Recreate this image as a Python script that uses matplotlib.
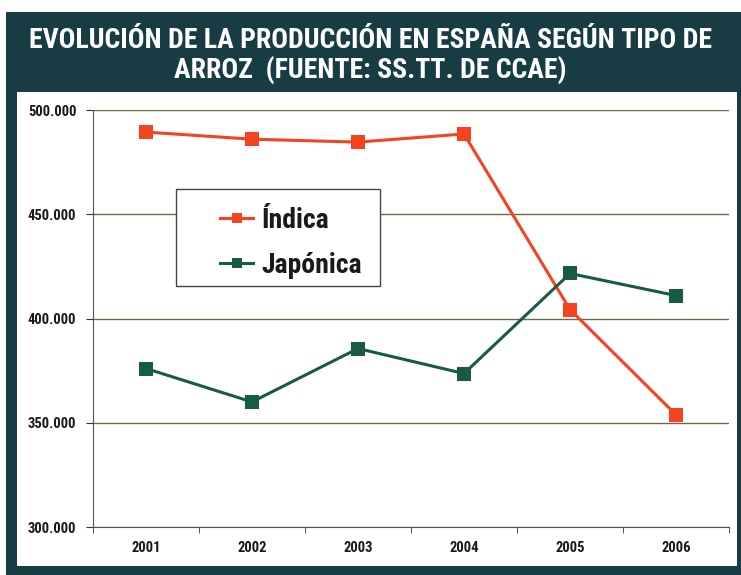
import matplotlib.pyplot as plt
from matplotlib.patches import Rectangle

# data (toneladas)
years = ['2001', '2002', '2003', '2004', '2005', '2006']
indica = [489400, 486000, 484600, 488500, 404300, 353800]
japonica = [376000, 360000, 385600, 373600, 421600, 411000]
yticks = [300000, 350000, 400000, 450000, 500000]
ytick_labels = ['300.000', '350.000', '400.000', '450.000', '500.000']

FONT = ['Roboto Condensed', 'Liberation Sans Narrow', 'DejaVu Sans']
DARK = '#173c43'


def main():
    W, H = 741, 575
    fig = plt.figure(figsize=(W / 100, H / 100), dpi=100)
    fig.patch.set_facecolor('white')

    # dark frame and white panel (figure pixel coords -> fractions)
    fig.patches.append(Rectangle((6 / W, 0), 1, 1 - 12 / H, transform=fig.transFigure,
                                 facecolor=DARK, edgecolor='none', zorder=-10))
    fig.patches.append(Rectangle((17 / W, 1 - 566 / H), (737 - 17) / W, (566 - 92) / H,
                                 transform=fig.transFigure, facecolor='white',
                                 edgecolor='none', zorder=-9))

    fig.text(0.5, 1 - 40 / H, 'EVOLUCIÓN DE LA PRODUCCIÓN EN ESPAÑA SEGÚN TIPO DE',
             ha='center', va='center', color='white', fontsize=20, fontweight='bold',
             family=FONT)
    fig.text(0.5, 1 - 70 / H, 'ARROZ  (FUENTE: SS.TT. DE CCAE)',
             ha='center', va='center', color='white', fontsize=20, fontweight='bold',
             family=FONT)

    ax = fig.add_axes([93 / W, 1 - 527 / H, (729 - 93) / W, (527 - 110) / H])
    ax.set_facecolor('none')
    x = list(range(len(years)))

    ax.plot(x, indica, color='#f4431f', lw=2.2, marker='s', ms=10,
            markeredgewidth=0, label='Índica', zorder=3)
    ax.plot(x, japonica, color='#185b45', lw=2.2, marker='s', ms=10,
            markeredgewidth=0, label='Japónica', zorder=3)

    ax.set_xlim(-0.5, 5.5)
    ax.set_ylim(300000, 500000)

    # gridlines
    ax.set_yticks(yticks)
    ax.set_yticklabels(ytick_labels, family=FONT, fontweight='bold', fontsize=10.5,
                       color='#1a1a1a')
    ax.yaxis.grid(True, color='#6e6a45', lw=1.0)
    ax.set_axisbelow(True)

    ax.set_xticks(x)
    ax.set_xticklabels(years, family=FONT, fontweight='bold', fontsize=10.5,
                       color='#1a1a1a')
    ax.tick_params(axis='x', length=0, pad=10)
    ax.set_xticks([i + 0.5 for i in range(-1, 6)], minor=True)
    ax.tick_params(axis='x', which='minor', length=4, color='#333333')
    ax.tick_params(axis='y', length=5, color='#333333', pad=7)

    for s in ['top', 'right']:
        ax.spines[s].set_visible(False)
    ax.spines['left'].set_color('#555555')
    ax.spines['bottom'].set_color('#555555')

    # legend box drawn separately so the entries sit off-centre like the original
    ax.add_patch(Rectangle((0.1305, 0.578), 0.3208, 0.2326, transform=ax.transAxes,
                           facecolor='white', edgecolor='#444444', lw=1.0, zorder=4))
    leg = ax.legend(loc='upper left', bbox_to_anchor=(0.1997, 0.768),
                    prop={'family': FONT, 'weight': 'bold', 'size': 20},
                    frameon=False, handlelength=1.2, handletextpad=0.3,
                    borderpad=0, labelspacing=0.65, borderaxespad=0, markerscale=0.75)
    leg.set_zorder(5)
    for t in leg.get_texts():
        t.set_color('#1a1a1a')

    fig.savefig('out.png', dpi=100)


if __name__ == '__main__':
    main()
